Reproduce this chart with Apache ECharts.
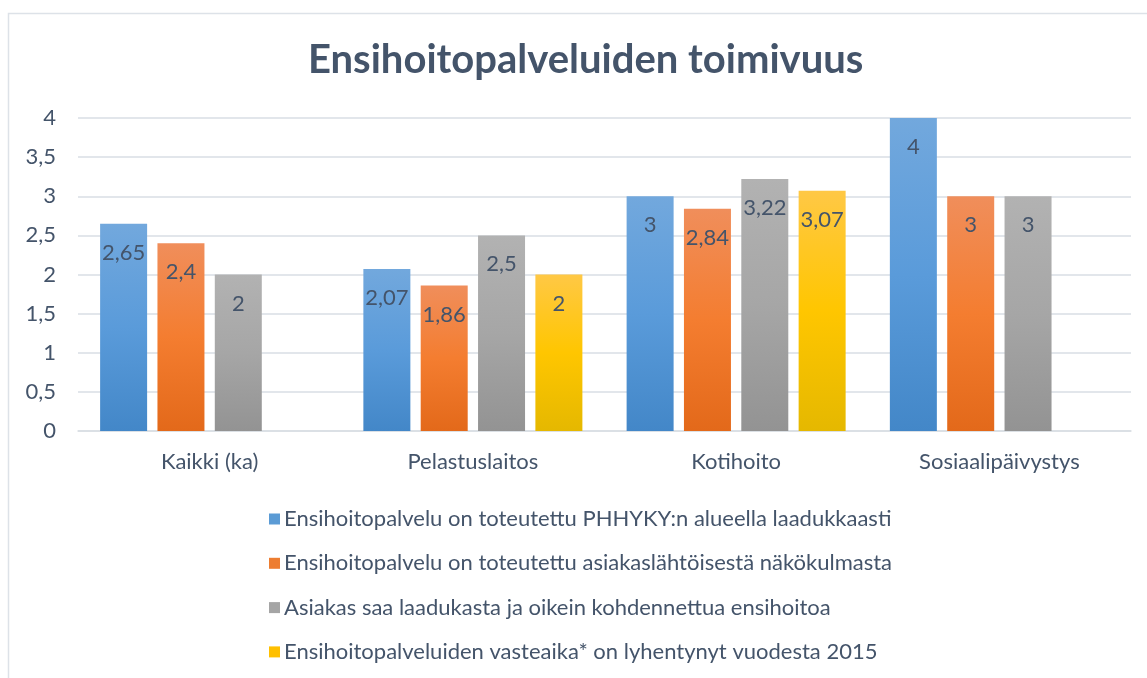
<!DOCTYPE html>
<html>
<head>
<meta charset="utf-8">
<script src="https://cdn.jsdelivr.net/npm/echarts@6/dist/echarts.min.js"></script>
<style>
html,body{margin:0;padding:0;background:#fff;}
#c{width:1147px;height:678px;}
</style>
</head>
<body>
<div id="c"></div>
<script>
var categories = ['Kaikki (ka)', 'Pelastuslaitos', 'Kotihoito', 'Sosiaalipäivystys'];
var seriesNames = [
  'Ensihoitopalvelu on toteutettu PHHYKY:n alueella laadukkaasti',
  'Ensihoitopalvelu on toteutettu asiakaslähtöisestä näkökulmasta',
  'Asiakas saa laadukasta ja oikein kohdennettua ensihoitoa',
  'Ensihoitopalveluiden vasteaika* on lyhentynyt vuodesta 2015'
];
var laadukkaasti = [2.65, 2.07, 3, 4];
var asiakaslahtoisesti = [2.4, 1.86, 2.84, 3];
var kohdennettua = [2, 2.5, 3.22, 3];
var vasteaika = [null, 2, 3.07, null];
var yTicks = [0, 0.5, 1, 1.5, 2, 2.5, 3, 3.5, 4];

var seriesValues = [laadukkaasti, asiakaslahtoisesti, kohdennettua, vasteaika];
var gradients = [
  ['#72A8DD', '#5A9BDA', '#4387C8'],
  ['#F08E5B', '#F47D30', '#E3691A'],
  ['#B2B2B2', '#A6A6A6', '#939393'],
  ['#FFC845', '#FFC600', '#E5B800']
];
var solid = ['#5B9BD5', '#ED7D31', '#A5A5A5', '#FFC000'];
var textColor = '#44546A';
var fontFam = 'Lato, "Open Sans", sans-serif';
var fs = 22;

function grad(c) {
  return new echarts.graphic.LinearGradient(0, 0, 0, 1, [
    {offset: 0, color: c[0]}, {offset: 0.5, color: c[1]}, {offset: 1, color: c[2]}
  ]);
}

var chart = echarts.init(document.getElementById('c'));
chart.setOption({
  animation: false,
  backgroundColor: '#fff',
  graphic: [{
    type: 'rect', shape: {x: 8.5, y: 13.5, width: 1200, height: 700},
    style: {fill: 'none', stroke: '#DDE2E8', lineWidth: 1.5}, z: -1
  }],
  title: {
    text: 'Ensihoitopalveluiden toimivuus',
    left: 303, top: 35,
    textStyle: {fontFamily: fontFam, fontWeight: 'bold', fontSize: 40, color: textColor}
  },
  legend: {
    orient: 'vertical', left: 264, top: 503,
    itemWidth: 11, itemHeight: 11, itemGap: 22.3, icon: 'rect',
    textStyle: {fontFamily: fontFam, fontSize: fs, lineHeight: 22, color: textColor, padding: [0, 0, 0, -1]},
    data: seriesNames.map(function (n, i) { return {name: n, itemStyle: {color: solid[i]}}; })
  },
  grid: {left: 78, right: 16, top: 118, bottom: 247},
  xAxis: {
    type: 'category', data: categories,
    axisLine: {show: true, lineStyle: {color: '#D9DEE4', width: 1.5}},
    axisTick: {show: false},
    axisLabel: {fontFamily: fontFam, fontSize: fs, color: textColor, margin: 20}
  },
  yAxis: {
    type: 'value', min: 0, max: 4, interval: 0.5,
    axisLine: {show: false}, axisTick: {show: false},
    splitLine: {lineStyle: {color: '#D9DEE4', width: 1.5}},
    axisLabel: {
      fontFamily: fontFam, fontSize: fs, color: textColor, margin: 22,
      formatter: function (v) { return String(v).replace('.', ','); }
    }
  },
  series: seriesValues.map(function (vals, i) {
    return {
      name: seriesNames[i], type: 'bar', data: vals,
      barWidth: 47, barGap: '22%',
      itemStyle: {color: grad(gradients[i])},
      label: {
        show: true, position: 'insideTop', distance: 18,
        fontFamily: fontFam, fontSize: fs, color: textColor,
        formatter: function (p) { return String(p.value).replace('.', ','); }
      }
    };
  })
});
</script>
</body>
</html>
